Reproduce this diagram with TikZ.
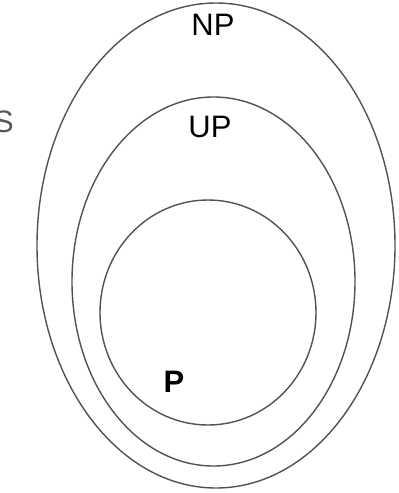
\documentclass[tikz,border=0pt]{standalone}
\usepackage{fontspec}
\setmainfont{Liberation Sans}
\usetikzlibrary{positioning}

\begin{document}
\begin{tikzpicture}[
    x=1pt, y=-1pt,
    every node/.style={font=\fontsize{31}{36}\selectfont, inner sep=0pt},
    set/.style={draw=black!68, line width=1.4pt},
    lbl/.style={text=black}
]
\useasboundingbox (0,0) rectangle (399,493);
\clip (0,0) rectangle (399,493);
\draw[set] (216,245.5) ellipse [x radius=179, y radius=242.5];
\draw[set] (213.5,281.5) ellipse [x radius=141.5, y radius=184.5];
\draw[set] (208,312.5) ellipse [x radius=108, y radius=112.5];
\node[lbl] (np) at (213,25) {NP};
\node[lbl] (up) at (210,127) {UP};
\node[lbl] (p) at (174,382) {\bfseries P};
\node[text=black!65, anchor=east] (s) at (14,122) {S};
\end{tikzpicture}
\end{document}
